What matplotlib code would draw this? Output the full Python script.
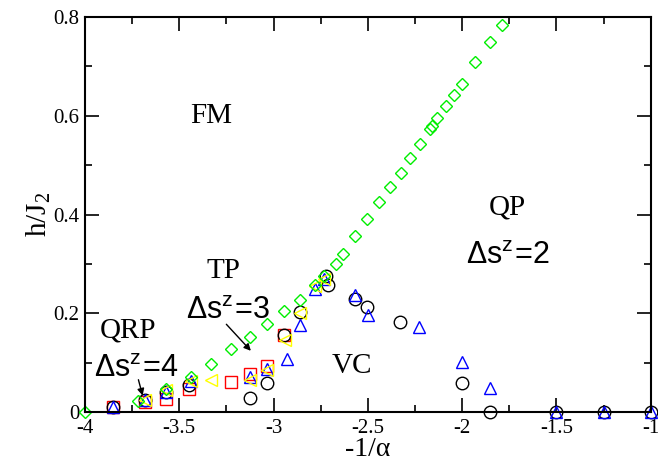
import matplotlib
matplotlib.use("Agg")
import matplotlib.pyplot as plt
from matplotlib.ticker import MultipleLocator

# Green diamonds (FM boundary)
dia_x = [-4.0, -3.72, -3.57, -3.44, -3.33, -3.226, -3.125, -3.035, -2.945, -2.86, -2.78, -2.73,
         -2.67, -2.633, -2.567, -2.506, -2.44, -2.384, -2.326, -2.278, -2.225, -2.17, -2.16,
         -2.135, -2.087, -2.045, -2.0, -1.93, -1.854, -1.79]
dia_y = [0.0, 0.022, 0.046, 0.071, 0.098, 0.128, 0.152, 0.178, 0.204, 0.228, 0.258, 0.275,
         0.300, 0.321, 0.357, 0.391, 0.425, 0.456, 0.485, 0.514, 0.543, 0.574, 0.580,
         0.596, 0.619, 0.642, 0.665, 0.709, 0.749, 0.785]

# Black circles
cir_x = [-3.85, -3.68, -3.57, -3.45, -3.125, -3.035, -2.945, -2.86, -2.72, -2.71, -2.57, -2.506,
         -2.33, -2.0, -1.854, -1.5, -1.25, -1.0]
cir_y = [0.01, 0.025, 0.04, 0.055, 0.028, 0.058, 0.156, 0.202, 0.275, 0.257, 0.229, 0.212,
         0.182, 0.058, 0.0, 0.0, 0.0, 0.0]

# Red squares
sq_x = [-3.85, -3.68, -3.57, -3.45, -3.226, -3.125, -3.035, -2.945]
sq_y = [0.01, 0.021, 0.027, 0.047, 0.061, 0.078, 0.094, 0.157]

# Blue triangles
tri_x = [-3.85, -3.68, -3.57, -3.44, -3.125, -3.035, -2.93, -2.86, -2.78, -2.73, -2.57, -2.5,
         -2.23, -2.0, -1.854, -1.5, -1.25, -1.0]
tri_y = [0.01, 0.025, 0.04, 0.063, 0.071, 0.088, 0.107, 0.176, 0.25, 0.27, 0.237, 0.196,
         0.172, 0.101, 0.049, 0.0, 0.0, 0.0]

# Yellow left triangles
ylw_x = [-3.68, -3.57, -3.44, -3.33, -3.125, -3.035, -2.94, -2.86, -2.78, -2.73]
ylw_y = [0.025, 0.045, 0.062, 0.065, 0.065, 0.085, 0.146, 0.2, 0.255, 0.27]

xticks = [-4, -3.5, -3, -2.5, -2, -1.5, -1]
yticks = [0, 0.2, 0.4, 0.6, 0.8]

serif = 'Liberation Serif'
sans = 'Liberation Sans'
plt.rcParams['mathtext.fontset'] = 'custom'
plt.rcParams['mathtext.rm'] = serif
plt.rcParams['mathtext.it'] = serif + ':italic'
plt.rcParams['mathtext.sf'] = sans

fig = plt.figure(figsize=(6.58, 4.62), dpi=100)
ax = fig.add_axes([0.129, 0.108, 0.860, 0.855])

ms = 9
ax.plot(sq_x, sq_y, 's', ms=ms, mfc='none', mec='red', mew=1.0, clip_on=False)
ax.plot(cir_x, cir_y, 'o', ms=ms, mfc='none', mec='black', mew=1.0, clip_on=False)
ax.plot(tri_x, tri_y, '^', ms=ms, mfc='none', mec='blue', mew=1.0, clip_on=False)
ax.plot(ylw_x, ylw_y, '<', ms=ms, mfc='none', mec='yellow', mew=1.0, clip_on=False)
ax.plot(dia_x, dia_y, 'D', ms=6.5, mfc='none', mec='#00ee00', mew=1.0, clip_on=False)

ax.set_xlim(-4, -1)
ax.set_ylim(0, 0.8)
ax.xaxis.set_minor_locator(MultipleLocator(0.25))
ax.yaxis.set_minor_locator(MultipleLocator(0.1))
ax.tick_params(which='both', direction='in', top=True, right=True, width=1.2)
ax.tick_params(which='major', length=10)
ax.tick_params(which='minor', length=5)
for s in ax.spines.values():
    s.set_linewidth(1.5)

ax.set_xticks(xticks)
ax.set_xticklabels(['%g' % v for v in xticks], fontfamily=serif, fontsize=15)
ax.set_yticks(yticks)
ax.set_yticklabels(['%g' % v for v in yticks], fontfamily=serif, fontsize=15)
ax.tick_params(axis='x', pad=5)
ax.tick_params(axis='y', pad=4)

fig.text(368 / 658, 0.5 / 462, '-1/\u03b1', fontfamily=serif, fontsize=20,
         ha='center', va='bottom')
ax.set_ylabel(r'h/J$_{\rm 2}$', fontfamily=serif, fontsize=21, labelpad=0)

fs = 21
ax.text(-3.33, 0.60, 'FM', fontfamily=serif, fontsize=fs, ha='center', va='center')
ax.text(-1.758, 0.415, 'QP', fontfamily=serif, fontsize=fs, ha='center', va='center')
ax.text(-1.755, 0.318, r'$\mathsf{\Delta s^{z}\!=\!2}$', fontsize=22, ha='center', va='center')
ax.text(-3.263, 0.285, 'TP', fontfamily=serif, fontsize=fs, ha='center', va='center')
ax.text(-3.24, 0.205, r'$\mathsf{\Delta s^{z}\!=\!3}$', fontsize=22, ha='center', va='center')
ax.text(-3.77, 0.165, 'QRP', fontfamily=serif, fontsize=fs, ha='center', va='center')
ax.text(-3.725, 0.089, r'$\mathsf{\Delta s^{z}\!=\!4}$', fontsize=22, ha='center', va='center')
ax.text(-2.585, 0.093, 'VC', fontfamily=serif, fontsize=fs, ha='center', va='center')

ax.annotate('', xy=(-3.11, 0.12), xytext=(-3.26, 0.182),
            arrowprops=dict(arrowstyle='-|>', color='black', lw=1.0, mutation_scale=10))
ax.annotate('', xy=(-3.69, 0.028), xytext=(-3.72, 0.071),
            arrowprops=dict(arrowstyle='-|>', color='black', lw=1.0, mutation_scale=10))

fig.savefig('out.png', dpi=100)
